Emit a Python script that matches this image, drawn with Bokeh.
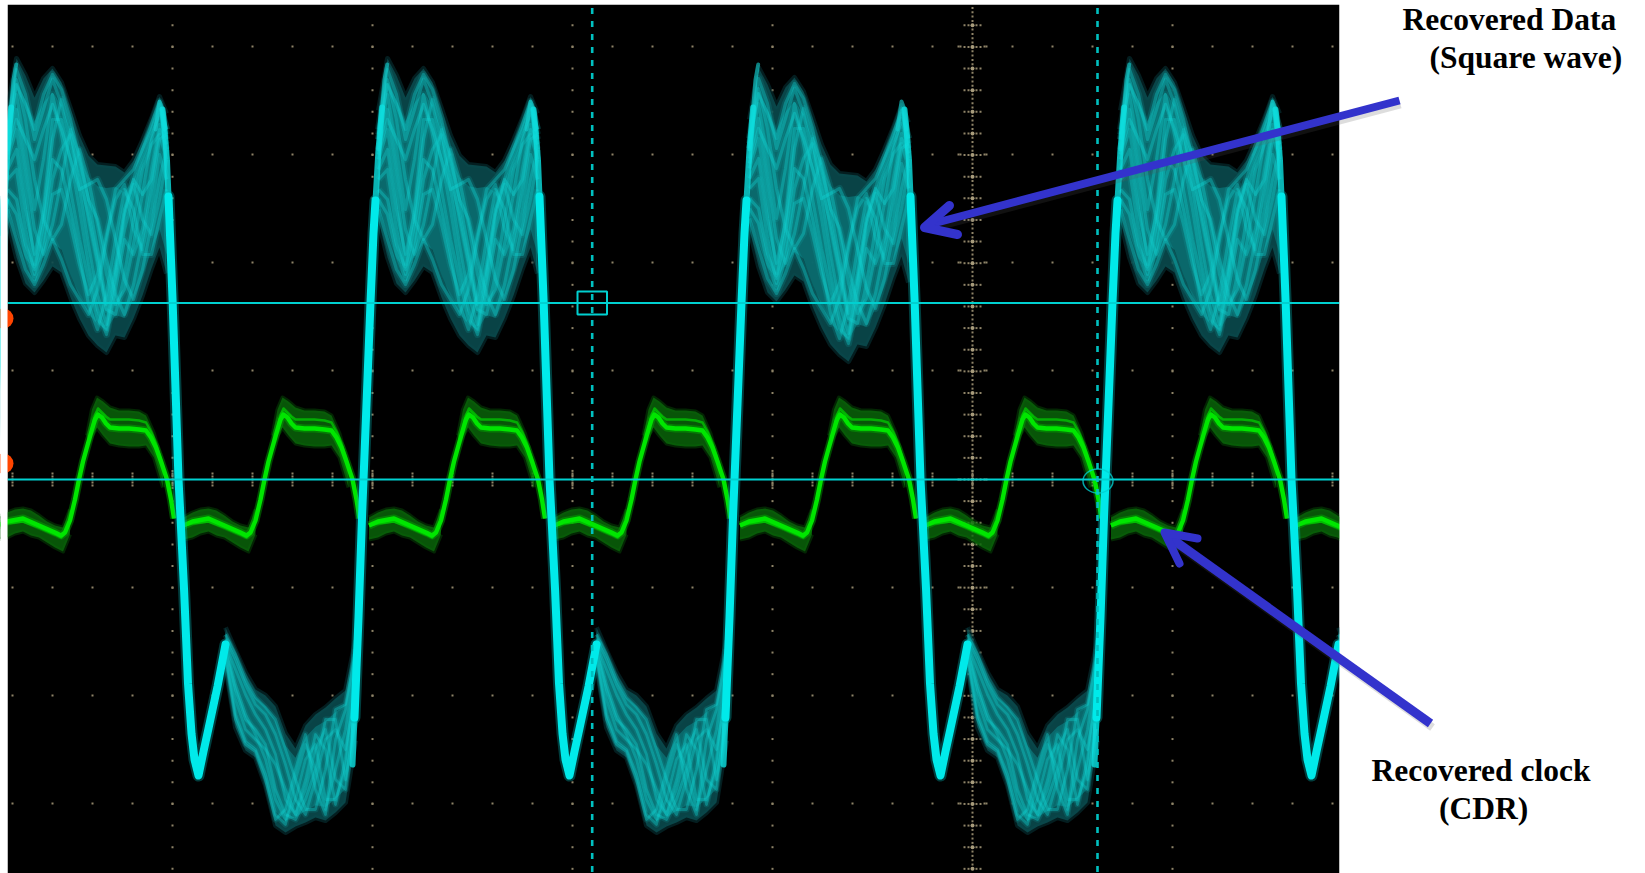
from bokeh.embed import file_html
from bokeh.resources import INLINE
from bokeh.plotting import figure
from bokeh.models import Range1d
from bokeh.core.properties import value

# Units: time in ns (200 ns/div), level in mV (108.15 mV/div); origin = graticule centre.
RISE_TIMES = [-980, -609, -238, 133]
HIGH_OFFSET = [0, 0, -9, 0]
GREEN_TIMES = [-893.5, -708, -522.5, -337, -151.5, 34, 219.5, 405]

EDGE_T = [-9, -5, -1.5, 0, 3.5, 7, 10, 12]
EDGE_V = [-238, -138, -38, 0, 88, 177, 246, 279]
EDGE_FOOT_T = [-11, -9, -7]
EDGE_FOOT_V = [-285, -238, -188]
EDGE_MID_T = [10, 12, 15, 18.7]
EDGE_MID_V = [246, 279, 330, 372]
EDGE_TOP_T = [15, 18.7, 21, 23.7]
EDGE_TOP_V = [330, 372, 400, 415]
FALL_T = [176, 178.8, 180.2, 186, 188, 191.6, 195.5, 199, 202, 206, 211, 216, 225, 233]
FALL_V = [283, 212, 176, 0, -38, -111, -204, -254, -280, -296, -272, -249, -207, -165]
FALL_MID_T = [170, 172, 174.5, 176, 178.8]
FALL_MID_V = [370, 350, 319, 283, 212]
FALL_TOP_T = [163, 167, 170, 172]
FALL_TOP_V = [350, 378, 370, 350]

HIGH_T = [15, 24, 33, 42, 51, 60, 69, 78, 87, 96, 105, 114, 123, 132, 141, 150, 159, 167, 174]
HIGH_UP = [369, 421, 404, 382, 401, 411, 397, 371, 344, 324, 315, 314, 313, 307, 319, 339, 361, 383, 366]
HIGH_LO = [259, 222, 196, 187, 199, 213, 207, 182, 161, 144, 134, 127, 144, 142, 161, 184, 211, 232, 206]
H1 = [350, 410, 385, 340, 370, 400, 375, 335, 300, 265, 220, 170, 210, 270, 300, 330, 350, 375, 350]
H2 = [340, 385, 330, 270, 320, 385, 345, 290, 240, 200, 160, 150, 200, 250, 285, 320, 345, 365, 340]
H3 = [320, 350, 290, 215, 270, 360, 360, 320, 270, 215, 170, 145, 190, 240, 225, 250, 310, 355, 330]
H4 = [300, 310, 250, 205, 240, 300, 330, 345, 310, 260, 215, 170, 165, 205, 260, 310, 335, 345, 320]
H5 = [280, 265, 225, 200, 230, 285, 290, 255, 215, 185, 205, 245, 280, 295, 250, 230, 270, 325, 300]
H6 = [340, 400, 360, 300, 260, 240, 255, 300, 330, 300, 255, 205, 175, 190, 235, 285, 340, 370, 345]
H7 = [330, 370, 310, 250, 225, 255, 300, 350, 325, 280, 230, 175, 215, 270, 295, 260, 245, 280, 320]
H8 = [310, 330, 270, 225, 265, 340, 380, 350, 290, 235, 185, 155, 205, 265, 300, 285, 300, 350, 335]
H9 = [290, 280, 235, 210, 255, 320, 310, 270, 225, 175, 150, 185, 240, 290, 270, 225, 225, 260, 290]
H10 = [345, 395, 375, 350, 385, 405, 390, 360, 320, 280, 260, 220, 185, 165, 195, 240, 290, 340, 345]
H11 = [270, 240, 210, 195, 215, 240, 220, 195, 180, 165, 190, 240, 290, 300, 310, 330, 355, 378, 350]
H12 = [325, 360, 340, 320, 350, 375, 350, 320, 290, 295, 300, 280, 240, 200, 180, 210, 255, 300, 330]
HIGH_TRACES = [H1, H2, H3, H4, H5, H6, H7, H8, H9, H10, H11, H12]

LOW_T = [233, 243, 253, 263, 273, 283, 293, 303, 313, 323, 333, 343, 353, 363]
LOW_UP = [-148, -171, -193, -210, -216, -227, -254, -269, -246, -235, -228, -219, -211, -161]
LOW_LO = [-186, -248, -271, -278, -306, -346, -353, -347, -343, -338, -341, -333, -323, -261]
L1 = [-165, -205, -235, -255, -280, -320, -340, -320, -280, -265, -320, -320, -290, -200]
L2 = [-170, -220, -250, -260, -270, -285, -310, -335, -310, -270, -250, -300, -310, -220]
L3 = [-165, -190, -215, -235, -250, -275, -320, -335, -300, -255, -270, -325, -280, -190]
L4 = [-175, -235, -262, -270, -295, -335, -345, -300, -265, -290, -330, -290, -250, -180]
L5 = [-160, -180, -205, -225, -235, -255, -285, -320, -335, -300, -260, -250, -270, -210]
L6 = [-170, -210, -240, -250, -265, -310, -335, -340, -320, -290, -240, -240, -300, -240]
L7 = [-180, -240, -265, -272, -300, -340, -330, -290, -255, -310, -335, -260, -230, -170]
L8 = [-155, -175, -200, -218, -228, -240, -270, -300, -330, -330, -290, -230, -225, -175]
LOW_TRACES = [L1, L2, L3, L4, L5, L6, L7, L8]

CLK_T = [-81, -72, -56, -40, -24, -18, -14, -9, -4, 0, 4, 9, 13, 16, 19, 23, 27, 31, 40, 50, 60, 67, 72, 77, 82, 88, 92, 95]
CLK_V = [-46, -42, -39, -46, -53, -56, -53, -41, -20, 0, 18, 36, 50, 60, 65, 62, 56, 52, 51, 51, 50, 49, 42, 32, 18, 0, -20, -39]
CLK_ALT_V = [-46, -44, -42, -48, -55, -58, -54, -41, -20, 0, 18, 36, 52, 64, 71, 67, 63, 60, 60, 60, 59, 57, 48, 36, 20, 0, -20, -39]
CLK_LOW_T = [-81, -72, -64, -56, -48, -40, -32, -24, -16, -9]
CLK_LOW_UP = [-38, -33, -30, -29, -31, -36, -42, -46, -48, -30]
CLK_LOW_LO = [-60, -58, -54, -52, -56, -58, -63, -68, -72, -55]
CLK_HIGH_T = [8, 13, 18, 24, 31, 40, 50, 60, 67, 75, 84]
CLK_HIGH_UP = [44, 70, 82, 78, 72, 69, 69, 68, 64, 46, 12]
CLK_HIGH_LO = [32, 44, 52, 44, 36, 34, 33, 33, 34, 22, -8]

CURSOR_LEVELS = [176.5, 0]
CURSOR_TIMES = [-380.3, 125]
ROW_LEVELS = [433, 325, 217, 109, 0, -108, -216, -324]
MAJOR_COLUMNS = [-800, -600, -400, -200, 0, 200]
MINOR_COLUMNS = list(range(-960, 361, 40))
MINOR_STEP = 21.63
CH_MARKERS = [161, 16]

CYAN, CYAN_HAZE, GREEN, GREEN_HAZE = "#00eaea", "#0a4a4e", "#00e600", "#0a6a0a"
CURSOR = "#00d0d0"
DASH_CURSOR = "#00c0c0"
DOT = "#8f8468"
BLUE = "#3333cc"

p = figure(width=1645, height=873, x_range=Range1d(-972, 673), y_range=Range1d(-394, 479),
           x_axis_type=None, y_axis_type=None, output_backend="svg", toolbar_location=None,
           min_border=0, margin=0, outline_line_color=None,
           background_fill_color="white", border_fill_color="white")
p.grid.visible = False

# screen background
p.quad(left=[-965], right=[367], top=[475], bottom=[-394], color="black", line_color=None)

# graticule
gx, gy = [], []
for v in ROW_LEVELS:
    for t in MINOR_COLUMNS:
        gx.append(t); gy.append(v)
for t in MAJOR_COLUMNS:
    for k in range(-18, 22):
        gx.append(t); gy.append(k * MINOR_STEP)
    for d in (-8.6, -4.3, 4.3, 8.6):
        gx.append(t); gy.append(d)
for t in MINOR_COLUMNS:
    for d in (-6, -3, 3, 6):
        gx.append(t); gy.append(d)
for k in range(-90, 110):
    gx.append(0); gy.append(k * MINOR_STEP / 5)
for k in range(-18, 22):
    for d in (-8, -4, 4, 8):
        gx.append(d); gy.append(k * MINOR_STEP)
for v in ROW_LEVELS:
    for d in (-14, -12, 12, 14):
        gx.append(d); gy.append(v)
p.scatter(gx, gy, marker="square", size=2, color=DOT, line_color=None)
p.scatter([0] * 40, [k * MINOR_STEP for k in range(-18, 22)], marker="circle", size=4, color="#a89c7c", line_color=None)


def shifted(ts, t0):
    return [t + t0 for t in ts]


def off(vs, d):
    return [v + d for v in vs]


def inset(up, lo, frac):
    return ([u - (u - l) * frac for u, l in zip(up, lo)], [l + (u - l) * frac for u, l in zip(up, lo)])


def persistence(tt, up, lo, traces, w):
    """One band of overlaid scope sweeps: dim outer haze, denser core, bright ridges."""
    p.line(tt, up, color="#083c40", line_width=5, alpha=0.5, line_join="round")
    p.line(tt, lo, color="#083c40", line_width=5, alpha=0.5, line_join="round")
    p.varea(tt, lo, up, color=CYAN_HAZE, alpha=0.9)
    mu, ml = inset(up, lo, 0.12)
    p.varea(tt, ml, mu, color="#0b6e72", alpha=0.85)
    for tr in traces:
        p.line(tt, tr, color="#0fa4a6", line_width=w * 2.2, alpha=0.2, line_join="round")
        p.line(tt, tr, color="#12dcdc", line_width=w, alpha=0.34, line_join="round")


# clock (green) below the data
for g in GREEN_TIMES:
    for tt, up, lo in ((CLK_LOW_T, CLK_LOW_UP, CLK_LOW_LO), (CLK_HIGH_T, CLK_HIGH_UP, CLK_HIGH_LO)):
        st = shifted(tt, g)
        p.line(st, up, color=GREEN_HAZE, line_width=4, alpha=0.35, line_join="round")
        p.line(st, lo, color=GREEN_HAZE, line_width=4, alpha=0.35, line_join="round")
        p.varea(st, lo, up, color=GREEN_HAZE, alpha=0.8)
    p.line(shifted(CLK_T, g), CLK_V, color="#00b800", line_width=8, alpha=0.4, line_join="round")
    p.line(shifted(CLK_T, g), CLK_ALT_V, color=GREEN, line_width=2.5, alpha=0.6, line_join="round")
    p.line(shifted(CLK_T, g), CLK_V, color=GREEN, line_width=4.4, line_join="round")

# recovered data (cyan)
for r, d in zip(RISE_TIMES, HIGH_OFFSET):
    persistence(shifted(HIGH_T, r), off(HIGH_UP, d), off(HIGH_LO, d), [off(tr, d) for tr in HIGH_TRACES], 3.2)
    persistence(shifted(LOW_T, r), LOW_UP, LOW_LO, LOW_TRACES, 2.8)
for r in RISE_TIMES + [RISE_TIMES[0] - 371]:
    for ts, vs in ((EDGE_TOP_T, EDGE_TOP_V), (FALL_TOP_T, FALL_TOP_V)):
        p.line(shifted(ts, r), vs, color="#14d2d2", line_width=4, alpha=0.6, line_join="round", line_cap="round")
    for ts, vs in ((EDGE_MID_T, EDGE_MID_V), (FALL_MID_T, FALL_MID_V), (EDGE_FOOT_T, EDGE_FOOT_V)):
        p.line(shifted(ts, r), vs, color="#0ce0e0", line_width=6, alpha=0.8, line_join="round", line_cap="round")
    for ts, vs in ((EDGE_T, EDGE_V), (FALL_T, FALL_V)):
        p.line(shifted(ts, r), vs, color="#00b0b0", line_width=12, alpha=0.35, line_join="round", line_cap="round")
        p.line(shifted(ts, r), vs, color=CYAN, line_width=8, line_join="round", line_cap="round")

# cursors
for v in CURSOR_LEVELS:
    p.line([-965, 367], [v, v], color=CURSOR, line_width=2)
for t in CURSOR_TIMES:
    p.line([t, t], [471.6, -394], color=DASH_CURSOR, line_width=2.6, line_dash="6 7")
p.quad(left=[-395], right=[-365.5], top=[188], bottom=[165], fill_color=None, line_color=CURSOR, line_width=2)
p.ellipse([125.5], [-1.5], width=30, height=24, fill_color=None, line_color=CURSOR, line_width=1.5, line_alpha=0.8)
p.ellipse([-969, -969], CH_MARKERS, width=20, height=20, color="#ff4500", line_color=None)

# masks outside the screen
p.quad(left=[-972, 367, -972], right=[-965, 673, 673], top=[479, 479, 479], bottom=[-394, -394, 475], color="white", line_color=None)

# annotation arrows
ARROW_DATA_T, ARROW_DATA_V = [427, -43], [379, 255]
ARROW_CLK_T, ARROW_CLK_V = [458, 196], [-244, -57]
p.line([t + 1 for t in ARROW_DATA_T], [v - 4 for v in ARROW_DATA_V], color="#555555", line_width=8, alpha=0.2)
p.line([t + 2 for t in ARROW_CLK_T], [v - 4 for v in ARROW_CLK_V], color="#555555", line_width=8, alpha=0.2)
p.line(ARROW_DATA_T, ARROW_DATA_V, color=BLUE, line_width=8)
p.line([-23, -48, -15], [274, 252, 245], color=BLUE, line_width=9, line_join="round", line_cap="round")
p.line(ARROW_CLK_T, ARROW_CLK_V, color=BLUE, line_width=9)
p.line([225, 192, 207], [-59, -53, -84], color=BLUE, line_width=8, line_join="round", line_cap="round")

# labels
LABELS = ["Recovered Data", "(Square wave)", "Recovered clock", "(CDR)"]
LABEL_T = [430, 457, 399, 466.5]
LABEL_V = [460, 422, -291, -329]
p.text(LABEL_T, LABEL_V, text=LABELS, text_font=value("Liberation Serif"), text_font_style="bold",
       text_font_size="31.5px", text_color="black", text_align="left", text_baseline="alphabetic")

open("out.html", "w").write(file_html(p, INLINE))
